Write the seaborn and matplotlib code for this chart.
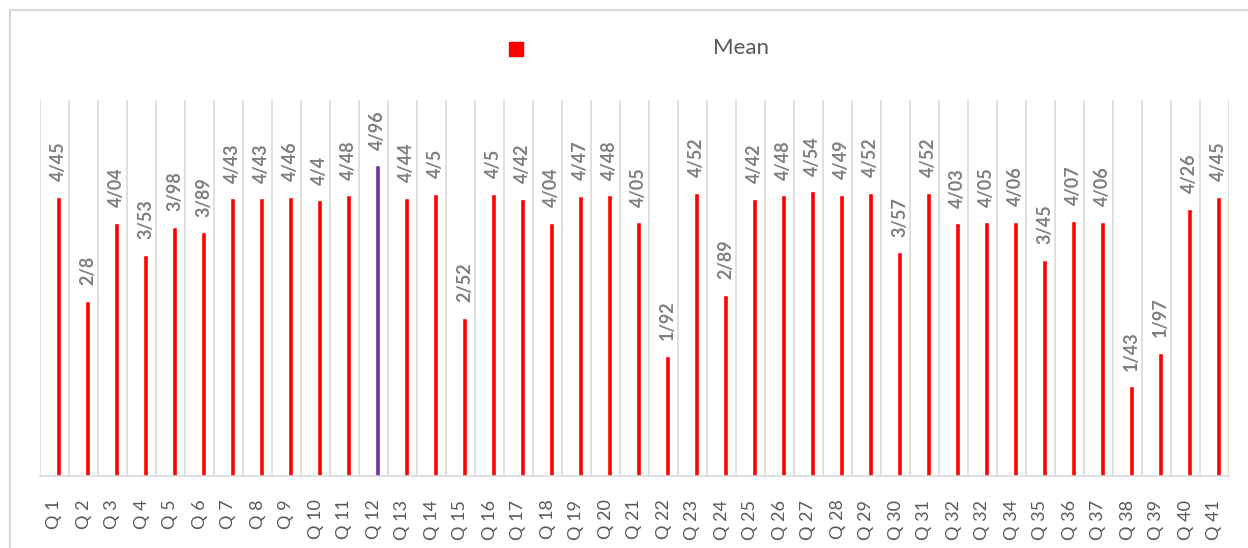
import matplotlib.pyplot as plt
import matplotlib.patches as mpatches
from matplotlib.lines import Line2D
import numpy as np
import seaborn as sns

# Question labels (Q 32 appears twice in the source, Q 33 is missing)
questions = ['Q 1', 'Q 2', 'Q 3', 'Q 4', 'Q 5', 'Q 6', 'Q 7', 'Q 8', 'Q 9', 'Q 10',
             'Q 11', 'Q 12', 'Q 13', 'Q 14', 'Q 15', 'Q 16', 'Q 17', 'Q 18', 'Q 19', 'Q 20',
             'Q 21', 'Q 22', 'Q 23', 'Q 24', 'Q 25', 'Q 26', 'Q 27', 'Q 28', 'Q 29', 'Q 30',
             'Q 31', 'Q 32', 'Q 32', 'Q 34', 'Q 35', 'Q 36', 'Q 37', 'Q 38', 'Q 39', 'Q 40',
             'Q 41']
means = [4.45, 2.8, 4.04, 3.53, 3.98, 3.89, 4.43, 4.43, 4.46, 4.4,
         4.48, 4.96, 4.44, 4.5, 2.52, 4.5, 4.42, 4.04, 4.47, 4.48,
         4.05, 1.92, 4.52, 2.89, 4.42, 4.48, 4.54, 4.49, 4.52, 3.57,
         4.52, 4.03, 4.05, 4.06, 3.45, 4.07, 4.06, 1.43, 1.97, 4.26,
         4.45]
highlight = 'Q 12'

RED = '#ff0000'
PURPLE = '#7030a0'
GRID = '#d9d9d9'
SHIFT = 0.14  # bars sit a little right of the category centre, as in Excel

sns.set_style('white')
plt.rcParams['font.family'] = ['Lato', 'DejaVu Sans']

idx = np.arange(len(questions))
colors = [PURPLE if q == highlight else RED for q in questions]
keys = [str(i) for i in idx]

fig = plt.figure(figsize=(12.48, 5.48), dpi=100)
ax = fig.add_axes([40 / 1248, 1 - 476 / 548, (1229 - 40) / 1248, (476 - 100) / 548])

sns.barplot(x=idx + SHIFT, y=means, hue=keys, palette=colors, legend=False,
            native_scale=True, dodge=False, width=0.15, ax=ax, saturation=1)

ax.set_xlim(-0.5, len(questions) - 0.5)
ax.set_ylim(0, 6)

# vertical separators between categories
for b in np.arange(-0.5, len(questions), 1.0):
    ax.axvline(b, color=GRID, lw=1.2, zorder=0)

# value labels, decimal shown with "/"
for i, v in enumerate(means):
    ax.text(i + SHIFT, v + 0.25, f'{v:g}'.replace('.', '/'), rotation=90, ha='center',
            va='bottom', color='#7f7f7f', fontsize=13, fontweight='bold')

ax.set_yticks([])
ax.set_xticks(idx)
ax.set_xticklabels(questions, rotation=90, color='#595959', fontsize=13)
ax.tick_params(axis='x', length=0, pad=17)
for s in ['left', 'right', 'top']:
    ax.spines[s].set_visible(False)
ax.spines['bottom'].set_color(GRID)
ax.spines['bottom'].set_linewidth(1.2)
ax.set_xlabel('')
ax.set_ylabel('')

# legend at top, spaced like the original
fig.add_artist(mpatches.Rectangle((509 / 1248, 1 - 56 / 548), 14 / 1248, 14 / 548,
                                  transform=fig.transFigure, color=RED))
fig.text(713 / 1248, 1 - 48 / 548, 'Mean', color='#595959', fontsize=16, va='center')

# outer chart border
fig.add_artist(Line2D([10 / 1248, 10 / 1248, 1.0], [0, 1 - 10 / 548, 1 - 10 / 548],
                      transform=fig.transFigure, color=GRID, lw=1.5))

plt.savefig('out.png', dpi=100)
